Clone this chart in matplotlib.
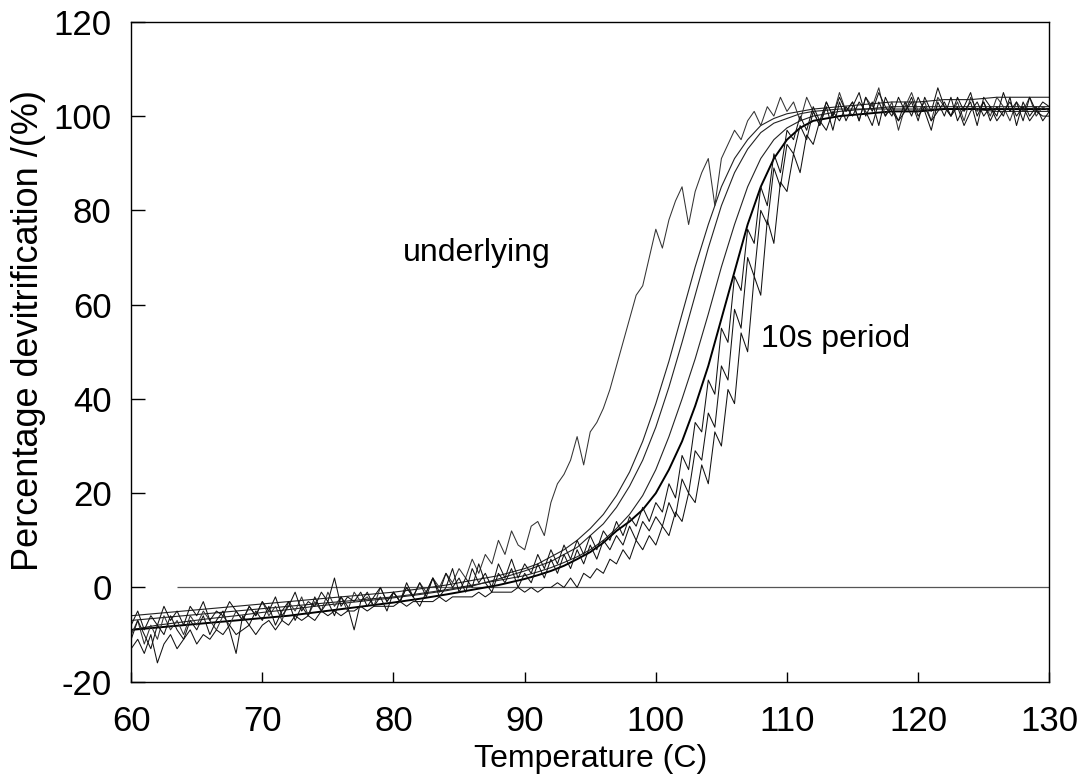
import numpy as np
import matplotlib
matplotlib.use('Agg')
import matplotlib.pyplot as plt

plt.rcParams['font.family'] = ['Liberation Sans', 'DejaVu Sans']
plt.rcParams['axes.unicode_minus'] = False

# Temperature grid for the smooth (averaged) traces
temp_smooth = [60, 62, 64, 66, 68, 70, 72, 74, 76, 78, 80, 82, 84, 86, 88, 90,
               91, 92, 93, 94, 95, 96, 97, 98, 99, 100, 101, 102, 103, 104, 105,
               106, 107, 108, 109, 110, 111, 112, 114, 116, 118, 120, 122, 124,
               126, 128, 130]

smooth_1 = [-6, -5.5, -5, -4.5, -4, -3.5, -3, -2.5, -2, -1.5, -1, -0.3, 0.5, 1.5, 2.5, 4,
            5, 6.5, 8, 10, 12.5, 15.5, 19.5, 24.5, 31, 39, 48, 58, 68, 77, 85,
            91, 95, 98, 99.5, 100.5, 101, 101.5, 102, 102.5, 103, 103, 103.5, 103.5,
            104, 104, 104]
smooth_2 = [-9, -8, -7.3, -6.6, -6, -5.3, -4.7, -4, -3.4, -2.8, -2.2, -1.5, -0.7, 0.3, 1.8, 3.5,
            4.5, 5.5, 7, 8.5, 11, 13.5, 17, 21.5, 27, 34, 42.5, 52, 62, 72, 81,
            88, 93, 96.5, 98.5, 99.5, 100.5, 101, 101.5, 101.5, 102, 102, 102, 102,
            102, 102, 102]
smooth_3 = [-7, -6.5, -6, -5.5, -5, -4.5, -4, -3.5, -3, -2.5, -2, -1.3, -0.5, 0.5, 1.5, 2.5,
            3.3, 4.2, 5.3, 6.5, 8, 10, 12.5, 15.5, 19.5, 25, 32, 40, 48.5, 58, 68,
            77, 85, 91, 95, 97.5, 99, 100, 101, 101.5, 101.5, 101.5, 101.5, 101.5,
            101, 101, 101]
smooth_4 = [-9, -8.5, -8, -7.5, -7, -6.5, -6, -5.3, -4.6, -3.9, -3.2, -2.4, -1.5, -0.5, 0.5, 1.8,
            2.6, 3.5, 4.6, 6, 7.5, 9.5, 12, 14, 16.5, 20, 25, 31, 38.5, 47, 57,
            67, 77, 85, 91, 95, 97.5, 99, 100, 100.5, 101, 101, 101.5, 101.5,
            101.5, 101.5, 101.5]

# Temperature grid for the raw (noisy) traces, 0.5 C apart
temp_raw = np.arange(60, 130.5, 0.5)

underlying = [
    -10, -7, -12, -8, -11, -6, -9, -7, -10, -6,
    -8, -5, -7, -9, -6, -8, -5, -7, -4, -6,
    -3, -6, -4, -7, -3, -5, -2, -6, -3, -5,
    -1, -4, -2, -5, -1, -3, -2, -4, 0, -3,
    -1, -3, 0, -2, 1, -1, 2, 0, 3, 1,
    4, 2, 6, 3, 7, 5, 10, 7, 12, 9,
    8, 13, 14, 11, 18, 22, 24, 27, 32, 26,
    33, 35, 38, 42, 47, 52, 57, 62, 64, 70,
    76, 72, 78, 82, 85, 77, 84, 88, 91, 81,
    91, 94, 97, 95, 99, 101, 98, 102, 100, 104,
    101, 103, 99, 104, 101, 98, 103, 100, 105, 101,
    103, 99, 104, 102, 106, 100, 103, 97, 102, 105,
    101, 103, 99, 104, 102, 100, 103, 99, 104, 101,
    103, 100, 104, 102, 99, 103, 101, 104, 100, 102,
    101]

raw_1 = [
    -8, -5, -9, -6, -8, -4, -7, -5, -8, -4,
    -6, -3, -7, -5, -6, -3, -5, -7, -4, -6,
    -3, -5, -2, -6, -4, -1, -5, -3, -4, -1,
    -3, 2, -4, -2, -3, -1, -4, -2, 0, -3,
    -1, -3, 0, -2, 1, -2, 2, -1, 3, 0,
    2, -1, 4, 1, 3, 0, 5, 2, 6, 2,
    5, 3, 7, 4, 8, 5, 9, 6, 10, 7,
    11, 8, 12, 10, 14, 11, 15, 13, 17, 14,
    18, 16, 22, 19, 28, 25, 35, 33, 44, 41,
    55, 52, 66, 63, 76, 73, 85, 81, 92, 88,
    97, 95, 100, 97, 102, 99, 103, 100, 104, 101,
    103, 99, 104, 101, 105, 102, 100, 104, 101, 103,
    99, 104, 101, 106, 102, 100, 104, 101, 103, 98,
    104, 102, 100, 105, 101, 103, 99, 104, 101, 103,
    102]

raw_2 = [
    -11, -7, -10, -13, -8, -10, -6, -9, -11, -7,
    -9, -6, -10, -7, -5, -9, -14, -6, -8, -5,
    -7, -4, -8, -5, -3, -7, -4, -6, -2, -5,
    -3, -6, -2, -4, -9, -3, -1, -4, -2, -5,
    -1, -3, 1, -2, -4, -1, 2, -2, 0, 4,
    -1, 2, 0, 5, 1, -1, 3, 1, 4, 0,
    3, 1, 5, 2, 6, 3, 7, 4, 8, 5,
    9, 6, 10, 8, 11, 9, 13, 10, 14, 12,
    15, 13, 18, 15, 23, 20, 29, 27, 37, 34,
    47, 44, 59, 55, 70, 66, 80, 77, 89, 85,
    94, 92, 98, 95, 101, 98, 102, 97, 103, 99,
    102, 105, 100, 103, 98, 104, 101, 99, 103, 100,
    104, 101, 97, 103, 100, 104, 99, 102, 105, 100,
    103, 99, 102, 100, 104, 98, 103, 100, 102, 99,
    101]

raw_3 = [
    -13, -11, -14, -10, -16, -12, -10, -13, -11, -9,
    -12, -10, -11, -9, -10, -8, -10, -9, -8, -10,
    -8, -7, -9, -7, -8, -6, -7, -6, -7, -5,
    -6, -5, -6, -5, -5, -4, -5, -4, -4, -4,
    -4, -3, -4, -3, -3, -3, -3, -2, -3, -2,
    -2, -2, -2, -1, -2, -1, -1, -1, -1, 0,
    -1, 0, -1, 0, 0, 1, 0, 2, 0, 3,
    2, 4, 3, 6, 5, 8, 6, 10, 8, 11,
    9, 13, 11, 16, 14, 20, 18, 26, 22, 33,
    30, 42, 39, 54, 50, 66, 62, 78, 73, 86,
    84, 92, 88, 96, 94, 99, 97, 101, 99, 102,
    100, 103, 101, 98, 103, 100, 102, 99, 101, 104,
    100, 102, 99, 101, 103, 100, 102, 98, 101, 103,
    100, 102, 99, 101, 103, 100, 102, 99, 101, 100,
    100]

zero_line_start = 63.5

label_underlying = ('underlying', 80.75, 69.3)
label_period = ('10s period', 108.0, 51.0)

fig = plt.figure(figsize=(10.84, 7.8), dpi=100)
ax = fig.add_axes([0.121, 0.126, 0.847, 0.846])

ax.hlines(0, zero_line_start, 130, color='#555555', lw=0.9, zorder=1)

for vals in (smooth_1, smooth_2, smooth_3):
    ax.plot(temp_smooth, vals, color='#222222', lw=0.8)
ax.plot(temp_smooth, smooth_4, color='black', lw=1.4)

ax.plot(temp_raw, underlying, color='#333333', lw=0.75)
for vals in (raw_1, raw_2, raw_3):
    ax.plot(temp_raw, vals, color='#111111', lw=0.75)

ax.text(label_underlying[1], label_underlying[2], label_underlying[0],
        fontsize=23, ha='left', va='baseline')
ax.text(label_period[1], label_period[2], label_period[0],
        fontsize=23, ha='left', va='baseline')

ax.set_xlim(60, 130)
ax.set_ylim(-20, 120)
ax.set_xticks(range(60, 131, 10))
ax.set_yticks(range(-20, 121, 20))
ax.tick_params(direction='in', width=1, labelsize=25, top=False, right=False)
ax.tick_params(axis='x', length=7.5, pad=17)
ax.tick_params(axis='y', length=10, pad=14)
for sp in ax.spines.values():
    sp.set_linewidth(1.0)

ax.set_xlabel('Temperature (C)', fontsize=23, va='top')
ax.xaxis.set_label_coords(0.5, -0.095)
ax.set_ylabel('Percentage devitrification /(%)', fontsize=26, va='center')
ax.yaxis.set_label_coords(-0.112, 0.533)

fig.savefig('out.png', dpi=100)
